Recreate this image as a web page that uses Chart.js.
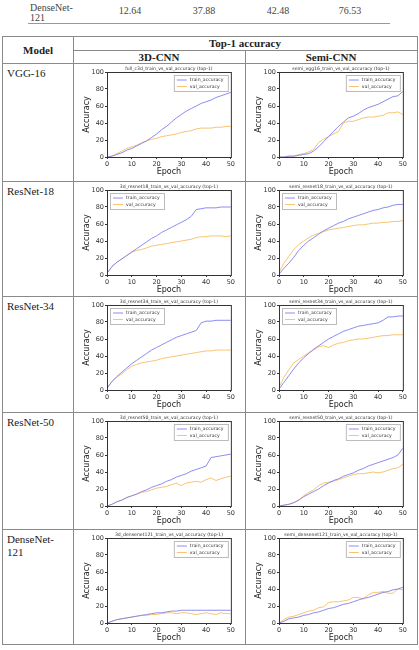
<!DOCTYPE html>
<html>
<head>
<meta charset="utf-8">
<script src="https://cdn.jsdelivr.net/npm/chart.js@4.4.1/dist/chart.umd.min.js"></script>
<style>
body { margin:0; background:#fff; width:419px; height:650px; position:relative; overflow:hidden; font-family:"Liberation Serif","DejaVu Serif",serif; }
.t { position:absolute; white-space:nowrap; color:#222; font-size:11px; line-height:1; }
.c { transform:translate(-50%,-50%); }
.h { position:absolute; background:#8a8a8a; height:1px; }
.v { position:absolute; background:#8a8a8a; width:1px; }
canvas { position:absolute; }
</style>
</head>
<body>
<div id="app"></div>
<script>
// --- data (epochs 0..50, every 2) ---
const epochs = [0,2,4,6,8,10,12,14,16,18,20,22,24,26,28,30,32,34,36,38,40,42,44,46,48,50];
const xTicks = [0,10,20,30,40,50];
const yTicks = [0,20,40,60,80,100];
const models = ['VGG-16','ResNet-18','ResNet-34','ResNet-50','DenseNet-\n121'];
const seriesNames = ['train_accuracy','val_accuracy'];

const vgg3dTrain   = [0,1,3,5,8,10,13,16,19,23,27,32,36,41,46,50,54,57,60,63,65,67,70,72,74,76];
const vgg3dVal     = [0,1,4,7,10,12,14,17,19,21,22,24,25,26,27,29,30,31,33,34,34,34,35,35,36,36];
const vggSemiTrain = [0,0,1,1,2,3,4,7,12,18,24,30,36,41,46,48,51,55,58,60,62,65,68,71,72,77];
const vggSemiVal   = [0,0,1,1,3,4,6,9,17,21,24,27,30,40,42,42,44,46,47,47,48,49,52,52,53,50];

const r18_3dTrain   = [2,10,15,19,23,27,31,35,39,43,46,50,53,56,59,62,65,69,77,78,79,79,79,80,80,80];
const r18_3dVal     = [2,10,15,19,23,27,29,30,32,34,35,36,37,38,39,40,41,42,44,45,45,46,46,46,45,46];
const r18SemiTrain  = [1,8,14,21,29,35,40,44,48,52,55,58,61,63,66,68,70,72,74,76,77,79,80,82,83,83];
const r18SemiVal    = [3,14,22,30,36,40,44,47,49,51,53,54,55,56,57,58,59,59,60,61,61,62,62,63,63,64];

const r34_3dTrain   = [2,10,16,21,26,31,35,39,43,47,50,53,56,59,62,64,66,68,70,79,81,81,82,82,82,82];
const r34_3dVal     = [2,10,15,19,24,28,30,32,33,34,35,37,38,39,40,41,42,43,44,45,46,46,47,47,47,47];
const r34SemiTrain  = [1,9,17,25,32,38,43,48,52,56,60,63,66,69,71,73,75,76,77,78,79,82,86,86,87,87];
const r34SemiVal    = [3,15,24,32,36,40,44,47,51,52,50,53,55,56,58,59,60,60,61,62,63,64,64,65,65,65];

const r50_3dTrain   = [0,2,5,7,10,12,14,17,19,22,24,26,29,31,34,36,38,41,43,45,47,57,58,59,60,61];
const r50_3dVal     = [0,2,5,7,10,12,14,16,17,19,21,22,23,25,27,24,27,28,29,28,31,33,30,32,34,35];
const r50SemiTrain  = [0,1,2,4,7,11,14,17,20,24,27,30,32,35,37,39,42,44,47,49,51,53,55,57,60,68];
const r50SemiVal    = [0,1,2,4,7,12,16,19,24,27,28,29,31,33,35,37,38,38,39,40,39,40,42,44,45,49];

const dn3dTrain     = [0,2,4,5,6,7,8,9,10,11,12,12,13,14,14,15,15,15,15,15,15,15,15,15,15,15];
const dn3dVal       = [0,2,4,5,6,7,8,9,9,10,10,11,12,12,11,12,12,11,10,11,12,11,10,12,11,11];
const dnSemiTrain   = [0,2,5,6,7,9,10,12,13,15,17,18,20,22,23,25,27,29,30,32,34,36,37,39,40,42];
const dnSemiVal     = [0,4,7,8,10,12,14,15,18,19,24,25,25,26,27,30,30,28,33,36,36,37,35,35,40,39];

const titles = [
  ['full_c3d_train_vs_val_accuracy (top-1)','semi_vgg16_train_vs_val_accuracy (top-1)'],
  ['3d_resnet18_train_vs_val_accuracy (top-1)','semi_resnet18_train_vs_val_accuracy (top-1)'],
  ['3d_resnet34_train_vs_val_accuracy (top-1)','semi_resnet34_train_vs_val_accuracy (top-1)'],
  ['3d_resnet50_train_vs_val_accuracy (top-1)','semi_resnet50_train_vs_val_accuracy (top-1)'],
  ['3d_densenet121_train_vs_val_accuracy (top-1)','semi_densenet121_train_vs_val_accuracy (top-1)']
];
const series = [
  [[vgg3dTrain,vgg3dVal],[vggSemiTrain,vggSemiVal]],
  [[r18_3dTrain,r18_3dVal],[r18SemiTrain,r18SemiVal]],
  [[r34_3dTrain,r34_3dVal],[r34SemiTrain,r34SemiVal]],
  [[r50_3dTrain,r50_3dVal],[r50SemiTrain,r50SemiVal]],
  [[dn3dTrain,dn3dVal],[dnSemiTrain,dnSemiVal]]
];
const legendSide = [['r','r'],['l','l'],['l','l'],['r','r'],['r','r']];

const TRAIN = '#7f7ff2', VAL = '#f7bd62', INK = '#333';
const rowTops = [63,181,296,412,529], tableBottom = 644;

const app = document.getElementById('app');
const put = (cls, css, txt) => {
  const d = document.createElement('div');
  d.className = cls; d.style.cssText = css;
  if (txt !== undefined) d.innerText = txt;
  app.appendChild(d); return d;
};

// --- top fragment of the previous table ---
put('t', 'left:30px;top:3px;font-size:10px;color:#444;line-height:10px', 'DenseNet-\n121');
[['12.64',130],['37.88',204],['42.48',278],['76.53',350]].forEach(([s,x]) =>
  put('t c', `left:${x}px;top:11px;font-size:10px;color:#444`, s));
put('h', 'left:28px;top:23px;width:362px;background:#999');

// --- table grid ---
put('h', 'left:2px;top:36px;width:416px');
put('h', 'left:73px;top:50px;width:345px');
rowTops.forEach(y => put('h', `left:2px;top:${y}px;width:416px`));
put('h', `left:2px;top:${tableBottom}px;width:416px`);
put('v', `left:2px;top:36px;height:${tableBottom-36}px`);
put('v', `left:73px;top:36px;height:${tableBottom-36}px`);
put('v', `left:245px;top:50px;height:${tableBottom-50}px`);
put('v', `left:417px;top:36px;height:${tableBottom-36}px`);

put('t c', 'left:38px;top:50px;font-weight:bold', 'Model');
put('t c', 'left:245px;top:43px;font-weight:bold', 'Top-1 accuracy');
put('t c', 'left:159px;top:57px;font-weight:bold', '3D-CNN');
put('t c', 'left:331px;top:57px;font-weight:bold', 'Semi-CNN');
models.forEach((m,i) => put('t', `left:7px;top:${rowTops[i]+4}px;line-height:13px`, m));

// --- chart extras: frame, tiny title, legend box ---
const extras = {
  id: 'extras',
  afterDraw(chart, args, opts) {
    const {ctx, chartArea: a} = chart;
    ctx.save();
    ctx.strokeStyle = INK; ctx.lineWidth = 1;
    ctx.strokeRect(a.left + 0.5, a.top + 0.5, a.right - a.left, a.bottom - a.top);
    ctx.fillStyle = INK;
    ctx.font = '4.6px "DejaVu Sans"';
    ctx.textAlign = 'center'; ctx.textBaseline = 'bottom';
    ctx.fillText(opts.title, (a.left + a.right) / 2, a.top - 0.5);
    const w = 54, h = 16;
    const x = opts.side === 'l' ? a.left + 3 : a.right - w - 3;
    const y = a.top + 3;
    ctx.fillStyle = '#fff'; ctx.fillRect(x, y, w, h);
    ctx.strokeStyle = '#bbb'; ctx.strokeRect(x + 0.5, y + 0.5, w, h);
    chart.data.datasets.forEach((ds, i) => {
      const ly = y + 5 + i * 6.5;
      ctx.strokeStyle = ds.borderColor; ctx.lineWidth = 0.9;
      ctx.beginPath(); ctx.moveTo(x + 3, ly); ctx.lineTo(x + 13, ly); ctx.stroke();
      ctx.fillStyle = INK; ctx.textAlign = 'left'; ctx.textBaseline = 'middle';
      ctx.fillText(ds.label, x + 16, ly);
    });
    ctx.restore();
  }
};

const tickFont = { family: 'DejaVu Sans', size: 6.5 };
const axisFont = { family: 'DejaVu Sans', size: 8 };

const makeChart = (row, col) => {
  const cv = document.createElement('canvas');
  const left = col === 0 ? 74 : 246, top = rowTops[row] + 1;
  cv.width = 162; cv.height = 115;
  cv.style.cssText = `left:${left}px;top:${top}px;width:162px;height:115px`;
  app.appendChild(cv);
  const [tr, va] = series[row][col];
  new Chart(cv, {
    type: 'line',
    data: {
      datasets: [
        { label: seriesNames[0], data: epochs.map((e,i) => ({x:e, y:tr[i]})), borderColor: TRAIN, borderWidth: 0.9, pointRadius: 0, tension: 0 },
        { label: seriesNames[1], data: epochs.map((e,i) => ({x:e, y:va[i]})), borderColor: VAL, borderWidth: 0.9, pointRadius: 0, tension: 0 }
      ]
    },
    options: {
      responsive: false, animation: false, devicePixelRatio: 1,
      layout: { padding: { top: 8, right: 4, left: 0, bottom: 0 } },
      plugins: { legend: { display: false }, tooltip: { enabled: false },
        extras: { title: titles[row][col], side: legendSide[row][col] } },
      scales: {
        x: {
          type: 'linear', min: 0, max: 50,
          afterBuildTicks: s => { s.ticks = xTicks.map(v => ({value: v})); },
          afterFit: s => { s.height = 22; },
          ticks: { font: tickFont, color: INK, padding: 1, maxRotation: 0 },
          grid: { drawOnChartArea: false, tickLength: 2, color: INK },
          border: { color: INK },
          title: { display: true, text: 'Epoch', font: axisFont, color: '#222', padding: { top: 0, bottom: 2 } }
        },
        y: {
          min: 0, max: 100,
          afterBuildTicks: s => { s.ticks = yTicks.map(v => ({value: v})); },
          afterFit: s => { s.width = 33; },
          ticks: { font: tickFont, color: INK, padding: 1 },
          grid: { drawOnChartArea: false, tickLength: 2, color: INK },
          border: { color: INK },
          title: { display: true, text: 'Accuracy', font: axisFont, color: '#222', padding: { top: 8, bottom: 0 } }
        }
      }
    },
    plugins: [extras]
  });
};

series.forEach((r, row) => r.forEach((_, col) => makeChart(row, col)));
</script>
</body>
</html>
